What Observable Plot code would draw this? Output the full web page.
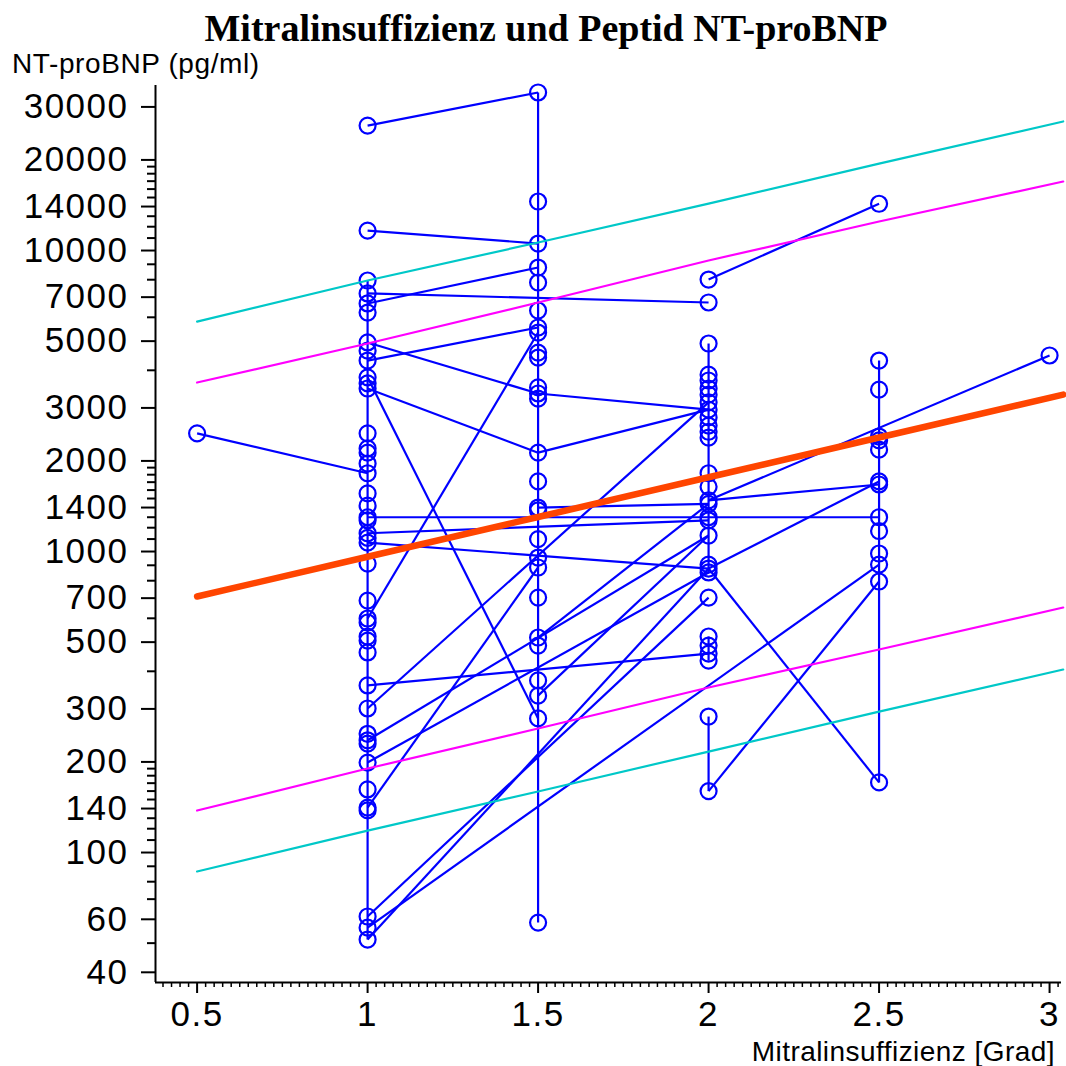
<!DOCTYPE html>
<html>
<head>
<meta charset="utf-8">
<script src="https://cdn.jsdelivr.net/npm/d3@7"></script>
<script src="https://cdn.jsdelivr.net/npm/@observablehq/plot@0.6"></script>
<style>
  html, body { margin: 0; padding: 0; background: #fff; }
  #chart { position: relative; width: 1066px; height: 1066px; font-family: "Liberation Sans", Arial, sans-serif; }
  #chart svg { position: absolute; left: 0; top: 0; }
  #chart svg text { letter-spacing: 1.5px; }
  .lbl { position: absolute; white-space: nowrap; line-height: 1; color: #000; }
  #title { left: 0; width: 1092px; top: 6px; text-align: center; font: bold 38px "Liberation Serif", "Times New Roman", serif; }
  #ylabel { left: 12px; top: 50px; font-size: 28px; letter-spacing: 0.6px; }
  #xlabel { right: 11px; top: 1038px; font-size: 28px; letter-spacing: 0.45px; }
</style>
</head>
<body>
<div id="chart">
  <div class="lbl" id="title">Mitralinsuffizienz und Peptid NT-proBNP</div>
  <div class="lbl" id="ylabel">NT-proBNP (pg/ml)</div>
  <div class="lbl" id="xlabel">Mitralinsuffizienz [Grad]</div>
</div>
<script>
// NT-proBNP (pg/ml) measured at each grade of mitral regurgitation
const ntAt05 = [2470];
const ntAt10 = [26000, 11650, 7950, 7200, 6670, 6220, 4950, 4650, 4310, 3790, 3620, 3480,
  2470, 2200, 2130, 1960, 1820, 1560, 1420, 1300, 1270, 1150, 1110, 1070, 912, 687, 599, 581,
  522, 506, 462, 359, 301, 248, 236, 230, 199, 162, 141, 138, 61.3, 56.3, 51.4];
const ntAt15 = [33500, 14550, 10550, 8780, 7830, 6320, 5550, 5340, 4580, 4410, 3510, 3350, 3220,
  2130, 1710, 1400, 1370, 1100, 955, 885, 703, 518, 487, 373, 332, 279, 58.5];
const ntAt20 = [8010, 6720, 4910, 3870, 3700, 3480, 3320, 3130, 2960, 2790, 2620, 2500, 2390,
  1820, 1640, 1480, 1440, 1300, 1270, 1130, 905, 878, 852, 703, 522, 487, 458, 434, 283, 160];
const ntAt25 = [14300, 4310, 3450, 2410, 2340, 2180, 1710, 1670, 1300, 1170, 985, 905, 795, 171];
const ntAt30 = [4480];

// Follow-up connections: one patient's earlier and later measurement
const fromGrade = [0.5, 1, 1, 1, 1, 1, 1, 1.5, 1, 1.5, 1, 1, 1, 1, 1, 1, 2, 2, 2, 2, 2, 2,
  1, 1, 1, 1, 1, 1, 1.5, 1.5, 1, 1.5, 1, 1.5, 2, 2, 2, 2.5];
const fromValue = [2470, 26000, 11650, 6670, 7200, 4310, 4950, 3350, 3480, 2130, 3790, 599, 301,
  1300, 1150, 1070, 878, 160, 1480, 1480, 878, 8010, 56.3, 61.3, 51.4, 359, 236, 199, 332, 518,
  141, 1400, 7950, 33500, 4910, 522, 283, 4310];
const toGrade = [1, 1.5, 1.5, 1.5, 2, 1.5, 1.5, 2, 1.5, 2, 1.5, 1.5, 2, 2.5, 2, 2, 2.5, 2.5, 3,
  2.5, 2.5, 2.5, 2.5, 2, 2, 2, 2, 2, 2, 2, 1.5, 2, 1, 1.5, 2, 2, 2, 2.5];
const toValue = [1820, 33500, 10550, 8780, 6720, 5550, 3350, 2960, 2130, 2960, 279, 5340, 3130,
  1300, 1270, 878, 171, 795, 4480, 1670, 1710, 14300, 905, 703, 878, 458, 1130, 852, 1130, 1440,
  885, 1440, 51.4, 58.5, 852, 434, 160, 171];

// Regression line with its two prediction bands
const bandGrades = [0.5, 1, 1.5, 2, 2.5, 3.04];
const fitLine   = [709, 961, 1302, 1765, 2392, 3323];
const upperWide = [5808, 7950, 10630, 14320, 19450, 26840];
const upperNarrow = [3643, 4909, 6718, 9265, 12490, 16955];
const lowerNarrow = [137.9, 190.1, 258.2, 353.3, 472.5, 651.6];
const lowerWide = [86.5, 118.3, 159.5, 216.5, 294, 405.5];

// Axis ticks
const xMajor = [0.5, 1, 1.5, 2, 2.5, 3];
const yMajor = [40, 60, 100, 140, 200, 300, 500, 700, 1000, 1400, 2000, 3000, 5000, 7000,
  10000, 14000, 20000, 30000];
const yMinor = [50, 70, 80, 90, 110, 120, 130, 150, 160, 170, 180, 190, 400, 600, 800, 900,
  1100, 1200, 1300, 1500, 1600, 1700, 1800, 1900, 4000, 6000, 8000, 9000, 11000, 12000, 13000,
  15000, 16000, 17000, 18000, 19000];
const xMinor = d3.range(16, 122).map(k => k / 40).filter(v => !xMajor.includes(v));

const xDomain = [0.378, 3.035];
const yDomain = [37, 35340];

const columns = [[0.5, ntAt05], [1, ntAt10], [1.5, ntAt15], [2, ntAt20], [2.5, ntAt25], [3, ntAt30]];
const circles = columns.flatMap(([g, vals]) => vals.map(v => ({grade: g, value: v})));
const links = fromGrade.map((g, i) => ({x1: g, y1: fromValue[i], x2: toGrade[i], y2: toValue[i]}));
const band = (vals) => bandGrades.map((g, i) => ({grade: g, value: vals[i]}));

const BLUE = "#0000ff", CYAN = "#00c8c8", MAGENTA = "#ff00ff", RED = "#ff4500";

const chart = Plot.plot({
  width: 1066,
  height: 1066,
  marginLeft: 155,
  marginRight: 5,
  marginTop: 85,
  marginBottom: 84,
  style: {fontFamily: '"Liberation Sans", Arial, sans-serif', background: "transparent", color: "#000"},
  x: {domain: xDomain},
  y: {type: "log", domain: yDomain},
  marks: [
    Plot.link(links, {x1: "x1", y1: "y1", x2: "x2", y2: "y2", stroke: BLUE, strokeWidth: 2.2}),
    Plot.dot(circles, {x: "grade", y: "value", r: 8, stroke: BLUE, strokeWidth: 2.2, fill: "none"}),
    Plot.line(band(upperWide), {x: "grade", y: "value", stroke: CYAN, strokeWidth: 2.2}),
    Plot.line(band(lowerWide), {x: "grade", y: "value", stroke: CYAN, strokeWidth: 2.2}),
    Plot.line(band(upperNarrow), {x: "grade", y: "value", stroke: MAGENTA, strokeWidth: 2.2}),
    Plot.line(band(lowerNarrow), {x: "grade", y: "value", stroke: MAGENTA, strokeWidth: 2.2}),
    Plot.line(band(fitLine), {x: "grade", y: "value", stroke: RED, strokeWidth: 6.5, strokeLinecap: "round"}),
    Plot.ruleX([xDomain[0]], {stroke: "#000", strokeWidth: 2}),
    Plot.ruleY([yDomain[0]], {stroke: "#000", strokeWidth: 2}),
    Plot.axisY(yMajor, {tickSize: 14, tickPadding: 13, fontSize: 35, tickFormat: d => String(d),
      label: null, stroke: "#000", strokeWidth: 2, fill: "#000"}),
    Plot.axisY(yMinor, {tickSize: 8, tickFormat: () => "", label: null, stroke: "#000", strokeWidth: 2}),
    Plot.axisX(xMajor, {tickSize: 11, tickPadding: 8, fontSize: 35, tickFormat: d => String(d),
      label: null, stroke: "#000", strokeWidth: 2, fill: "#000"}),
    Plot.axisX(xMinor, {tickSize: 5, tickFormat: () => "", label: null, stroke: "#000", strokeWidth: 1.5})
  ]
});
document.getElementById("chart").prepend(chart);
</script>
</body>
</html>
